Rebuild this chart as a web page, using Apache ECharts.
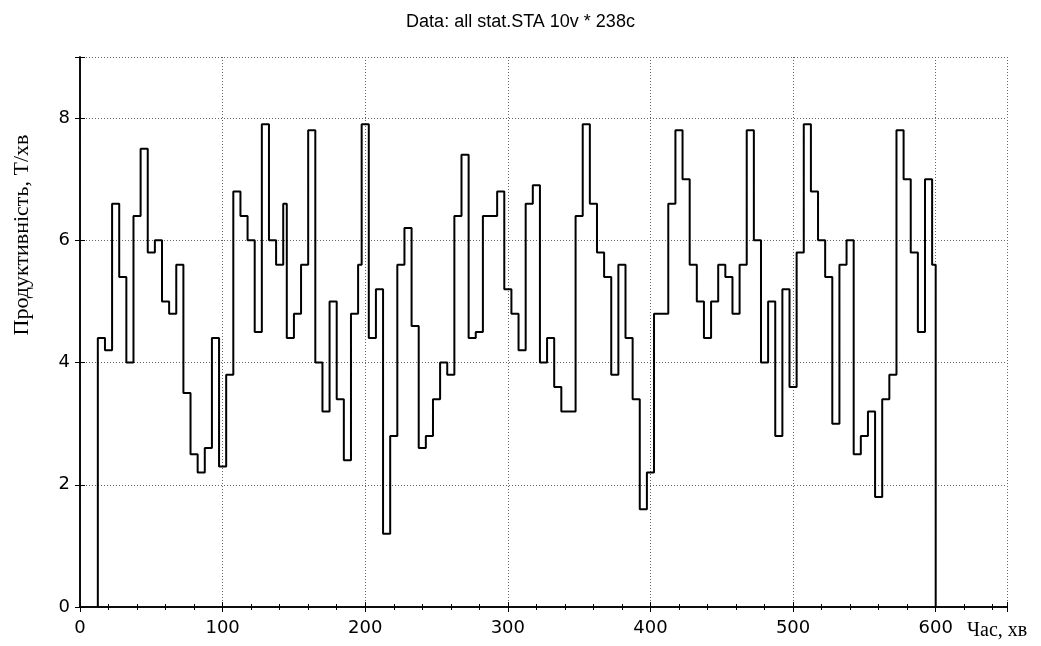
<!doctype html>
<html>
<head>
<meta charset="utf-8">
<title>Data: all stat.STA 10v * 238c</title>
<style>
html, body { margin: 0; padding: 0; background: #fff; }
#main { width: 1041px; height: 646px; }
</style>
</head>
<body>
<div id="main"></div>
<script src="https://cdn.jsdelivr.net/npm/echarts@6/dist/echarts.min.js"></script>
<script>
// start time (хв) of every step
var segStart = [
    12.5, 17.5, 22.5, 27.5, 32.5, 37.5, 42.5, 47.5, 52.5, 57.5,
    62.5, 67.5, 72.5, 77.5, 82.5, 87.5, 92.5, 97.5, 102.5, 107.5,
    112.5, 117.5, 122.5, 127.5, 132.5, 137.5, 142.5, 145, 150, 155,
    160, 165, 170, 175, 180, 185, 190, 195, 197.5, 202.5,
    207.5, 212.5, 217.5, 222.5, 227.5, 232.5, 237.5, 242.5, 247.5, 252.5,
    257.5, 262.5, 267.5, 272.5, 277.5, 282.5, 292.5, 297.5, 302.5, 307.5,
    312.5, 317.5, 322.5, 327.5, 332.5, 337.5, 347.5, 352.5, 357.5, 362.5,
    367.5, 372.5, 377.5, 382.5, 387.5, 392.5, 397.5, 402.5, 412.5, 417.5,
    422.5, 427.5, 432.5, 437.5, 442.5, 447.5, 452.5, 457.5, 462.5, 467.5,
    472.5, 477.5, 482.5, 487.5, 492.5, 497.5, 502.5, 507.5, 512.5, 517.5,
    522.5, 527.5, 532.5, 537.5, 542.5, 547.5, 552.5, 557.5, 562.5, 567.5,
    572.5, 577.5, 582.5, 587.5, 592.5, 597.5
];
// productivity, Т/хв, one value per step
var segValue = [
    4.4, 4.2, 6.6, 5.4, 4.0, 6.4, 7.5, 5.8, 6.0, 5.0,
    4.8, 5.6, 3.5, 2.5, 2.2, 2.6, 4.4, 2.3, 3.8, 6.8,
    6.4, 6.0, 4.5, 7.9, 6.0, 5.6, 6.6, 4.4, 4.8, 5.6,
    7.8, 4.0, 3.2, 5.0, 3.4, 2.4, 4.8, 5.6, 7.9, 4.4,
    5.2, 1.2, 2.8, 5.6, 6.2, 4.6, 2.6, 2.8, 3.4, 4.0,
    3.8, 6.4, 7.4, 4.4, 4.5, 6.4, 6.8, 5.2, 4.8, 4.2,
    6.6, 6.9, 4.0, 4.4, 3.6, 3.2, 6.4, 7.9, 6.6, 5.8,
    5.4, 3.8, 5.6, 4.4, 3.4, 1.6, 2.2, 4.8, 6.6, 7.8,
    7.0, 5.6, 5.0, 4.4, 5.0, 5.6, 5.4, 4.8, 5.6, 7.8,
    6.0, 4.0, 5.0, 2.8, 5.2, 3.6, 5.8, 7.9, 6.8, 6.0,
    5.4, 3.0, 5.6, 6.0, 2.5, 2.8, 3.2, 1.8, 3.4, 3.8,
    7.8, 7.0, 5.8, 4.5, 7.0, 5.6
];
var endTime = 600;

var xTicks = { min: 0, max: 650, interval: 100, lastLabel: 600 };
var yTicks = { min: 0, max: 9, interval: 2, lastLabel: 8 };

// step line: rises from 0 at the first time, drops back to 0 at the end
var points = [[segStart[0], 0]];
for (var i = 0; i < segStart.length; i++) {
    points.push([segStart[i], segValue[i]]);
}
points.push([endTime, 0]);

var chart = echarts.init(document.getElementById('main'));

var gridLine = { show: true, lineStyle: { color: '#666', width: 1, type: [1, 2] } };
var frame = { show: true, lineStyle: { color: '#000', width: 1.5 } };
var labelFont = { color: '#000', fontFamily: 'DejaVu Sans', fontSize: 18 };

function xAxis(pos, labels) {
    return {
        type: 'value',
        position: pos,
        min: xTicks.min,
        max: xTicks.max,
        interval: xTicks.interval,
        axisLine: frame,
        axisTick: { show: true, inside: true, length: 5, lineStyle: { color: '#000' } },
        minorTick: { show: true, splitNumber: 5, length: 3, lineStyle: { color: '#000' } },
        splitLine: pos === 'bottom' ? gridLine : { show: false },
        axisLabel: {
            show: labels,
            color: labelFont.color,
            fontFamily: labelFont.fontFamily,
            fontSize: labelFont.fontSize,
            margin: 12,
            formatter: function (v) { return v > xTicks.lastLabel ? '' : String(v); }
        }
    };
}

function yAxis(pos, labels) {
    return {
        type: 'value',
        position: pos,
        min: yTicks.min,
        max: yTicks.max,
        interval: yTicks.interval,
        axisLine: frame,
        axisTick: { show: true, inside: true, length: 5, lineStyle: { color: '#000' } },
        splitLine: pos === 'left' ? gridLine : { show: false },
        axisLabel: {
            show: labels,
            color: labelFont.color,
            fontFamily: labelFont.fontFamily,
            fontSize: labelFont.fontSize,
            margin: 10,
            formatter: function (v) { return v > yTicks.lastLabel ? '' : String(v); }
        }
    };
}

chart.setOption({
    animation: false,
    backgroundColor: '#fff',
    title: {
        text: 'Data: all stat.STA 10v * 238c',
        left: 'center',
        top: 8,
        textStyle: { color: '#000', fontWeight: 'normal', fontSize: 18, fontFamily: 'Liberation Sans' }
    },
    grid: { left: 80, right: 34, top: 57, bottom: 39 },
    xAxis: [xAxis('bottom', true), xAxis('top', false)],
    yAxis: [yAxis('left', true), yAxis('right', false)],
    graphic: [
        {
            type: 'text',
            left: 967,
            top: 621,
            style: { text: 'Час, хв', fill: '#000', font: '20px "Liberation Serif"' }
        },
        {
            type: 'text',
            x: 22,
            y: 235,
            rotation: Math.PI / 2,
            style: {
                text: 'Продуктивність, Т/хв',
                fill: '#000',
                font: '22px "Liberation Serif"',
                align: 'center',
                verticalAlign: 'middle'
            }
        }
    ],
    series: [{
        type: 'line',
        step: 'end',
        xAxisIndex: 0,
        yAxisIndex: 0,
        symbol: 'none',
        data: points,
        lineStyle: { color: '#000', width: 2 }
    }]
});

window.onresize = chart.resize;
</script>
</body>
</html>
